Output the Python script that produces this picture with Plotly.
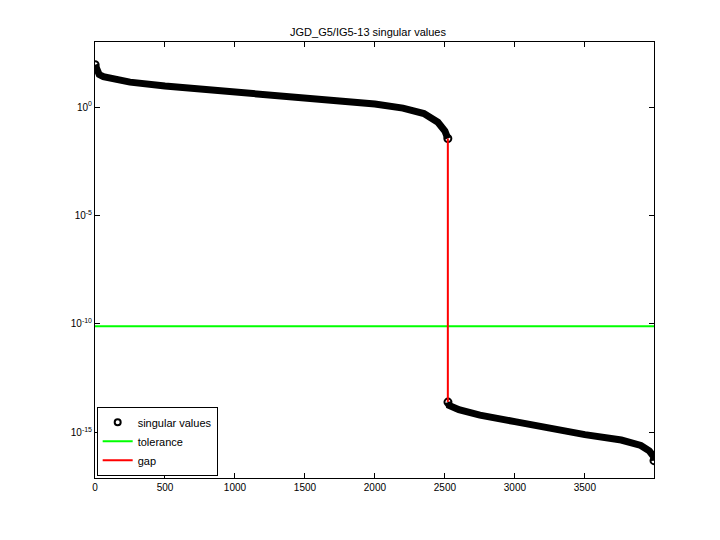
import numpy as np
import plotly.graph_objects as go

# values (index, log10 of singular value)
upper_idx = [1, 10, 30, 60, 120, 250, 500, 1000, 1500, 2000, 2200, 2350, 2450, 2500, 2521]
upper_log = [1.95, 1.7, 1.5, 1.4, 1.3, 1.15, 0.97, 0.69, 0.46, 0.14, -0.05, -0.3, -0.7, -1.1, -1.45]
lower_idx = [2522, 2530, 2600, 2750, 3000, 3280, 3500, 3760, 3900, 3960, 3990, 3994]
lower_log = [-13.6, -13.75, -13.95, -14.2, -14.5, -14.85, -15.1, -15.35, -15.6, -15.85, -16.1, -16.3]
tolerance = 10 ** -10.1
gap_x = 2521
gap_y = [10 ** -1.45, 10 ** -13.6]

fig = go.Figure()
for xs, ls in [(upper_idx, upper_log), (lower_idx, lower_log)]:
    ys = [10 ** v for v in ls]
    fig.add_trace(go.Scatter(x=xs, y=ys, mode='lines', line={'color': 'black', 'width': 7},
                             showlegend=False, hoverinfo='skip'))
    fig.add_trace(go.Scatter(x=[xs[0], xs[-1]], y=[ys[0], ys[-1]], mode='markers',
                             marker={'symbol': 'circle-open', 'color': 'black', 'size': 7,
                                     'line': {'width': 2}},
                             showlegend=False, hoverinfo='skip'))
fig.add_trace(go.Scatter(x=[None], y=[None], mode='markers', name='singular values',
                         marker={'symbol': 'circle-open', 'color': 'black', 'size': 6,
                                 'line': {'width': 2}}))
fig.add_trace(go.Scatter(x=[0, 3994], y=[tolerance, tolerance], mode='lines',
                         line={'color': '#00ff00', 'width': 2}, name='tolerance'))
fig.add_trace(go.Scatter(x=[gap_x, gap_x], y=gap_y, mode='lines',
                         line={'color': 'red', 'width': 2}, name='gap'))

ticks = [1e0, 1e-5, 1e-10, 1e-15]
fig.update_xaxes(range=[0, 3994], tickvals=[0, 500, 1000, 1500, 2000, 2500, 3000, 3500],
                 showgrid=False, zeroline=False, showline=True, mirror='ticks',
                 linecolor='black', ticks='inside', ticklen=5, tickcolor='black')
fig.update_yaxes(type='log', range=[-17.1, 3.0], tickvals=ticks,
                 ticktext=['10<sup>0</sup>', '10<sup>-5</sup>', '10<sup>-10</sup>', '10<sup>-15</sup>'],
                 showgrid=False, zeroline=False, showline=True, mirror='ticks',
                 linecolor='black', ticks='inside', ticklen=5, tickcolor='black')
fig.update_layout(
    width=720, height=540, plot_bgcolor='white', paper_bgcolor='white',
    margin={'l': 87, 'r': 74, 't': 34, 'b': 70},
    font={'family': 'Liberation Sans, Arial', 'size': 10, 'color': 'black'},
    title={'text': 'JGD_G5/IG5-13 singular values', 'x': 0.5, 'y': 0.962,
           'xanchor': 'center', 'font': {'size': 11}},
    legend={'x': 0.003, 'y': 0.005, 'xanchor': 'left', 'yanchor': 'bottom',
            'bordercolor': 'black', 'borderwidth': 1, 'bgcolor': 'white',
            'font': {'size': 11}},
)
fig.write_html("out.html")
